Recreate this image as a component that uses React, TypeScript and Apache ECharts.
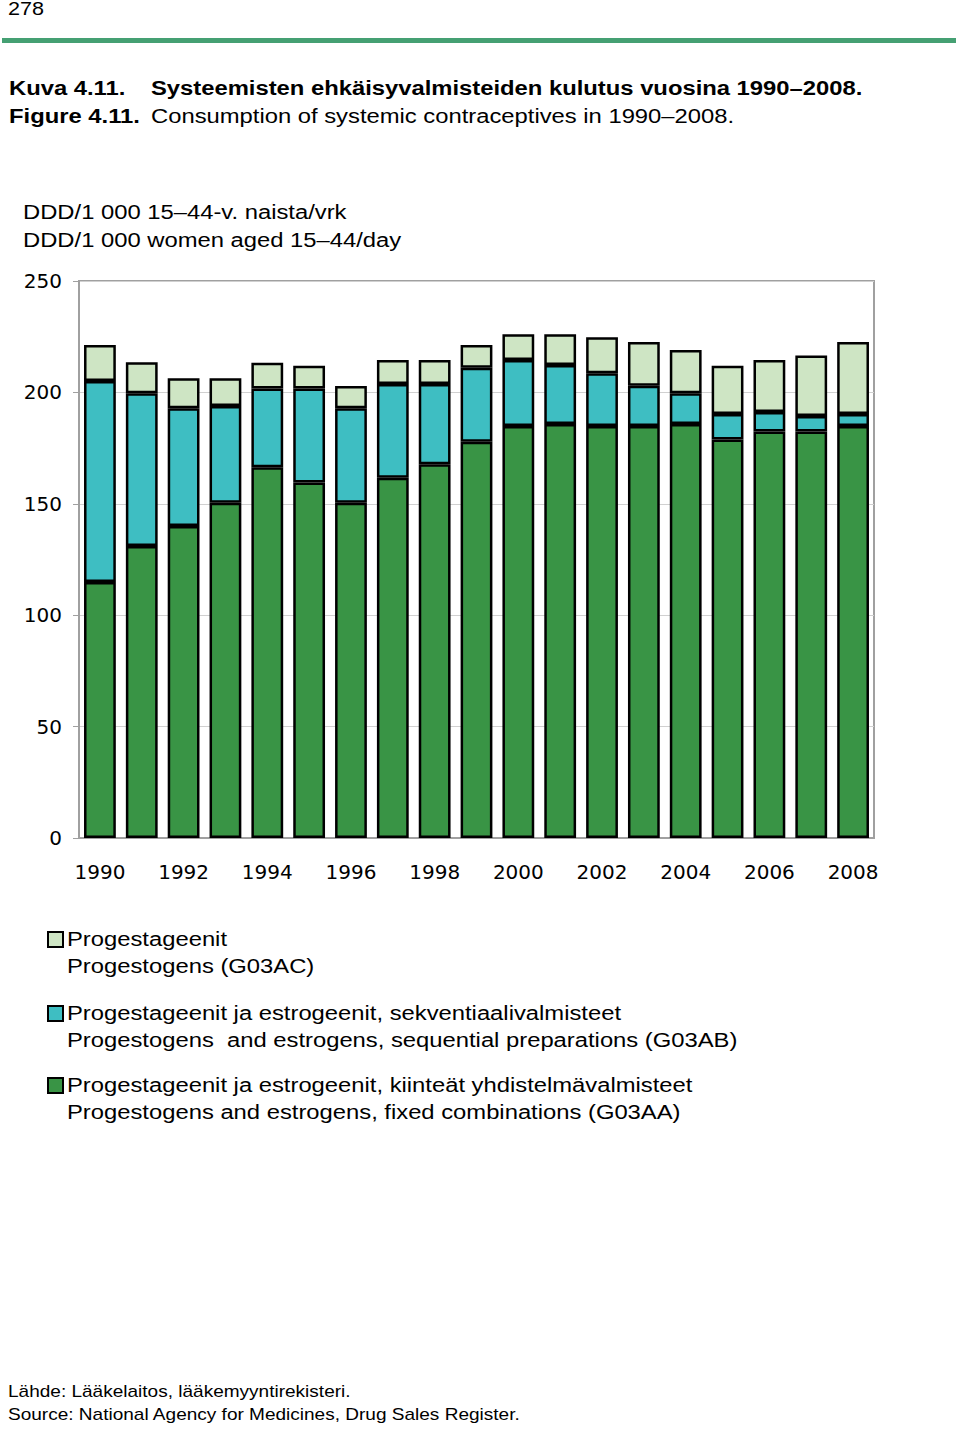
import React, { useEffect, useRef } from "react";
import * as echarts from "echarts";

const years = ["1990","1991","1992","1993","1994","1995","1996","1997","1998","1999","2000","2001","2002","2003","2004","2005","2006","2007","2008"];
const fixedCombinations = [114.9,131.1,140.0,150.5,166.4,159.6,150.5,161.7,167.7,177.9,184.9,185.8,184.9,184.9,185.8,178.9,182.4,182.4,184.9];
const sequential = [90.2,68.5,52.9,43.4,35.4,42.2,42.4,42.1,36.1,33.2,29.6,26.5,23.7,18.1,13.8,11.4,8.8,7.0,5.4];
const progestogens = [16.2,13.9,13.4,12.4,11.5,10.2,10.0,10.7,10.7,10.2,11.6,13.8,16.1,19.6,19.4,21.7,23.3,27.2,32.3];
const yTicks = [0, 50, 100, 150, 200, 250];

const legendItems = [
  { color: "#cee5c4", fi: "Progestageenit", en: "Progestogens (G03AC)" },
  { color: "#3ebec2", fi: "Progestageenit ja estrogeenit, sekventiaalivalmisteet", en: "Progestogens  and estrogens, sequential preparations (G03AB)" },
  { color: "#399445", fi: "Progestageenit ja estrogeenit, kiinteät yhdistelmävalmisteet", en: "Progestogens and estrogens, fixed combinations (G03AA)" },
];

const FONT = "'Liberation Sans', Arial, sans-serif";
const AXIS_FONT = "'DejaVu Sans', sans-serif";

export default function App() {
  const ref = useRef<HTMLDivElement>(null);
  useEffect(() => {
    document.body.style.margin = "0";
    const chart = echarts.init(ref.current!, null, { renderer: "svg" });
    const txt = (x: number, y: number, text: string, size: number, weight = "normal", sx = 1.19) => ({
      type: "text", x, y, scaleX: sx,
      style: { text, fontSize: size, fontFamily: FONT, fontWeight: weight, fill: "#000", textVerticalAlign: "middle", textAlign: "left" },
    });
    const legendGraphics: any[] = [];
    const legendY = [939, 1013, 1085];
    legendItems.forEach((it, i) => {
      legendGraphics.push({ type: "rect", shape: { x: 48, y: legendY[i] - 7, width: 15, height: 15 }, style: { fill: it.color, stroke: "#000", lineWidth: 2 } });
      legendGraphics.push(txt(67, legendY[i], it.fi, 20));
      legendGraphics.push(txt(67, legendY[i] + 27, it.en, 20));
    });
    chart.setOption({
      animation: false,
      textStyle: { fontFamily: FONT },
      grid: { left: 79, right: 86, top: 281, bottom: 591, show: true, borderColor: "#a0a0a0", borderWidth: 2, containLabel: false },
      xAxis: {
        type: "category", data: years,
        axisLine: { lineStyle: { color: "#a0a0a0", width: 2 } },
        axisTick: { show: false },
        axisLabel: { interval: 1, fontSize: 20, fontFamily: AXIS_FONT, color: "#000", margin: 24 },
      },
      yAxis: {
        type: "value", min: 0, max: 250, interval: 50,
        axisLine: { show: true, lineStyle: { color: "#a0a0a0", width: 2 } },
        axisTick: { show: true, length: 6, lineStyle: { color: "#a0a0a0" } },
        splitLine: { lineStyle: { color: "#d0d0d0", width: 1 } },
        axisLabel: { fontSize: 20, fontFamily: AXIS_FONT, color: "#000", margin: 17, formatter: (v: number) => (yTicks.includes(v) ? String(v) : "") },
      },
      series: [
        { name: legendItems[2].en, type: "bar", stack: "s", data: fixedCombinations, barWidth: "76%", itemStyle: { color: "#399445", borderColor: "#000", borderWidth: 2.5 } },
        { name: legendItems[1].en, type: "bar", stack: "s", data: sequential, itemStyle: { color: "#3ebec2", borderColor: "#000", borderWidth: 2.5 } },
        { name: legendItems[0].en, type: "bar", stack: "s", data: progestogens, itemStyle: { color: "#cee5c4", borderColor: "#000", borderWidth: 2.5 } },
      ],
      graphic: [
        txt(8, 9, "278", 18, "normal", 1.2),
        { type: "rect", shape: { x: 2, y: 38, width: 954, height: 5 }, style: { fill: "#45a073" } },
        txt(9, 88, "Kuva 4.11.", 20, "bold"),
        txt(151, 88, "Systeemisten ehkäisyvalmisteiden kulutus vuosina 1990–2008.", 20, "bold"),
        txt(9, 116, "Figure 4.11.", 20, "bold"),
        txt(151, 116, "Consumption of systemic contraceptives in 1990–2008.", 20),
        txt(23, 212, "DDD/1 000 15–44-v. naista/vrk", 20),
        txt(23, 240, "DDD/1 000 women aged 15–44/day", 20),
        ...legendGraphics,
        txt(8, 1391, "Lähde: Lääkelaitos, lääkemyyntirekisteri.", 17, "normal", 1.12),
        txt(8, 1414, "Source: National Agency for Medicines, Drug Sales Register.", 17, "normal", 1.12),
      ],
    });
    return () => chart.dispose();
  }, []);
  return <div ref={ref} style={{ position: "absolute", left: 0, top: 0, width: 960, height: 1429, background: "#fff" }} />;
}
